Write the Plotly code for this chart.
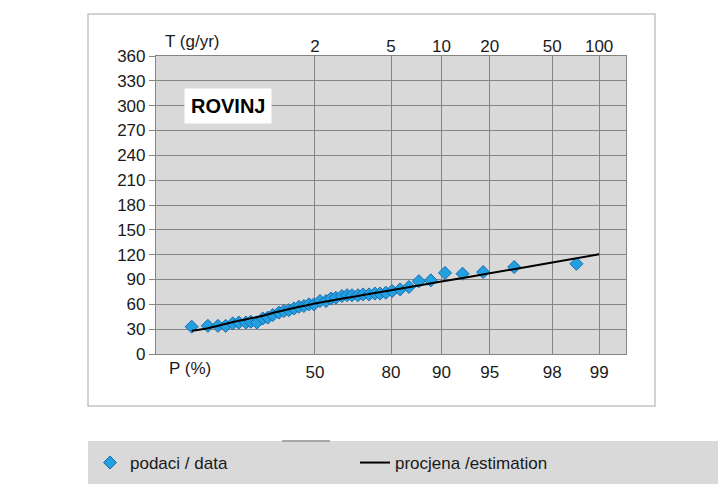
import numpy as np
import plotly.graph_objects as go

# Observed data: non-exceedance probability P (%) and annual maximum (mm)
data_p = [1.3, 3.3, 5.3, 7.3, 9.5, 11.6, 14.4, 16.5, 19.3, 22.2, 24.7, 27.3, 30.6,
          33.3, 36.0, 38.8, 41.5, 44.2, 46.9, 49.5, 52.6, 55.6, 57.9, 60.2, 62.9,
          65.1, 67.1, 69.4, 71.3, 73.4, 75.3, 76.9, 78.6, 80.3, 82.3, 84.3, 86.3,
          88.4, 90.5, 92.6, 94.5, 96.5, 98.6]
data_v = [33, 34, 34, 34, 37, 38, 38, 39, 38, 43, 44, 47, 50,
          52, 53, 55, 57, 58, 60, 60, 64, 64, 67, 68, 70,
          71, 71, 71, 72, 72, 73, 73, 74, 76, 78, 81, 88,
          89, 98, 97, 99, 105, 109]

# Estimation curve
est_p = [1.3, 3.3, 10, 20, 30, 50, 80, 90, 95, 98, 99]
est_v = [28, 31, 39, 45, 51, 61, 77, 87.5, 97.5, 110.5, 120.4]

# Axis tick labels
p_ticks = [50, 80, 90, 95, 98, 99]
t_ticks = ["2", "5", "10", "20", "50", "100"]
y_ticks = list(range(0, 361, 30))


def gumbel(p):
    p = np.asarray(p, dtype=float) / 100.0
    return -np.log(-np.log(p))


# page body adds an 8px offset; work in window pixel coordinates
OFF = 8
W, H = 726 - OFF, 484 - OFF
L, R, T, B = 156 - OFF, 100, 56 - OFF, 130
pw, ph = W - L - R, H - T - B


def px(x):
    return (x - OFF - L) / pw


def py(y):
    return (H - B - (y - OFF)) / ph


FONT = "Liberation Sans, Arial, sans-serif"
TXT = "#1a1a1a"

fig = go.Figure()
fig.add_trace(go.Scatter(
    x=gumbel(data_p), y=data_v, mode="markers", name="podaci / data",
    marker=dict(symbol="diamond", size=10, color="#22a0e0",
                line=dict(color="#1a68b0", width=1)),
))
fig.add_trace(go.Scatter(
    x=gumbel(est_p), y=est_v, mode="lines", name="procjena /estimation",
    line=dict(color="black", width=2, shape="spline", smoothing=0.6),
))
# invisible trace on top axis
fig.add_trace(go.Scatter(x=gumbel(p_ticks), y=[None] * len(p_ticks), xaxis="x2",
                         showlegend=False, hoverinfo="skip", mode="markers"))

grid = "#858585"
fig.update_layout(
    width=W, height=H,
    margin=dict(l=L, r=R, t=T, b=B, autoexpand=False),
    paper_bgcolor="white",
    plot_bgcolor="#d9d9d9",
    font=dict(family=FONT, size=17, color=TXT),
    xaxis=dict(range=[-2, 5], tickvals=gumbel(p_ticks), ticktext=[str(p) for p in p_ticks],
               showgrid=True, gridcolor=grid, gridwidth=1.2, zeroline=False,
               showline=True, linecolor=grid, linewidth=1.2, mirror=True,
               ticks="", ticklabelstandoff=2, tickfont=dict(size=17, color=TXT)),
    xaxis2=dict(range=[-2, 5], overlaying="x", side="top", tickvals=gumbel(p_ticks),
                ticktext=t_ticks, showgrid=False, zeroline=False, ticks="",
                tickfont=dict(size=17, color=TXT)),
    yaxis=dict(range=[0, 360], tickvals=y_ticks, showgrid=True, gridcolor=grid,
               gridwidth=1.2, zeroline=False, showline=True, linecolor=grid,
               linewidth=1.2, mirror=True, ticks="outside", ticklen=6, tickcolor=grid,
               tickfont=dict(size=17, color=TXT)),
    legend=dict(orientation="h", x=px(90), y=py(445), xanchor="left", yanchor="top",
                bgcolor="rgba(0,0,0,0)", entrywidth=220, entrywidthmode="pixels",
                font=dict(size=17, color=TXT), itemclick=False),
    showlegend=True,
)

shapes = [
    # outer chart frame
    dict(type="rect", xref="paper", yref="paper", x0=px(88), x1=px(655), y0=py(406), y1=py(14),
         line=dict(color="#c4c4c4", width=1.5), fillcolor="rgba(0,0,0,0)", layer="below"),
    # legend band
    dict(type="rect", xref="paper", yref="paper", x0=px(88), x1=px(726), y0=py(484), y1=py(441),
         line=dict(width=0), fillcolor="#d9d9d9", layer="below"),
    dict(type="line", xref="paper", yref="paper", x0=px(282), x1=px(330), y0=py(441), y1=py(441),
         line=dict(color="#a8a8a8", width=2)),
]
fig.update_layout(shapes=shapes)

annotations = [
    dict(text="T (g/yr)", xref="paper", yref="paper", x=px(163), y=py(42), xanchor="left",
         yanchor="middle", showarrow=False, font=dict(size=17, color=TXT)),
    dict(text="P (%)", xref="paper", yref="paper", x=px(167), y=py(368), xanchor="left",
         yanchor="middle", showarrow=False, font=dict(size=17, color=TXT)),
    dict(text="<b>ROVINJ</b>", xref="paper", yref="paper", x=px(228), y=py(106),
         xanchor="center", yanchor="middle", showarrow=False, bgcolor="white",
         borderpad=6, font=dict(size=20, color="black")),
]
fig.update_layout(annotations=annotations)

fig.write_html("out.html")
